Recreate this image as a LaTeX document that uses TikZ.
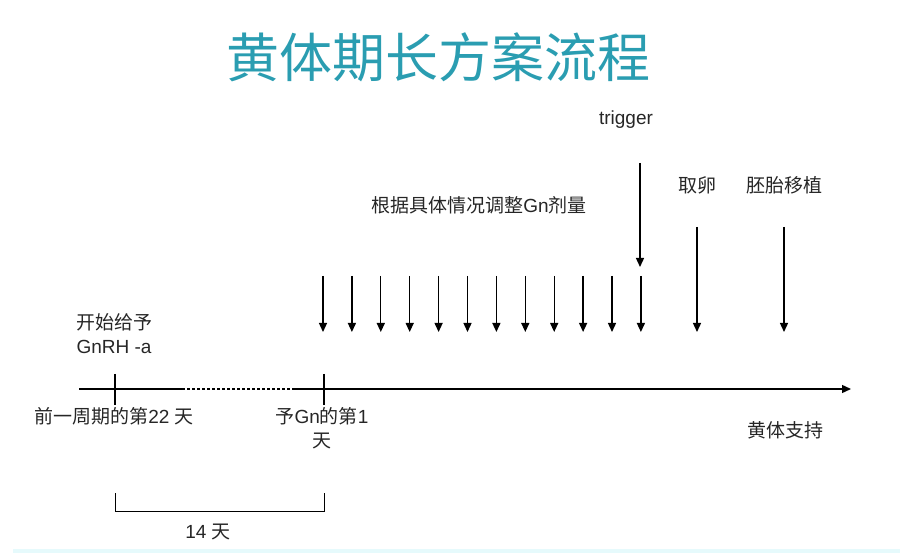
\documentclass[tikz,border=0pt]{standalone}
\usepackage{fontspec}
\setmainfont{Liberation Sans}
\newfontfamily\cjk{Noto Sans CJK SC}
\usetikzlibrary{arrows.meta}

\begin{document}
\begin{tikzpicture}[x=1pt,y=-1pt,
  lbl/.style={inner sep=0pt,font=\fontsize{19}{24}\selectfont,align=center,text=black!85},
  darrow/.style={-{Triangle[length=9pt,width=8pt]},line width=1.3pt},
  axisline/.style={line width=1.2pt}]
\definecolor{titleteal}{HTML}{2A9DB1}
\definecolor{footcyan}{HTML}{E6FAFC}
\useasboundingbox (0,0) rectangle (900,553);
\fill[footcyan] (13,549) rectangle (900,553);
\node[inner sep=0pt,font=\fontsize{53}{58}\selectfont\cjk,text=titleteal] (title) at (438,57) {黄体期长方案流程};
% time axis
\coordinate (start) at (79,389);
\coordinate (gapL) at (182,389);
\coordinate (gapR) at (295,389);
\coordinate (end) at (851,389);
\draw[axisline] (start) -- (gapL);
\draw[axisline,dash pattern=on 3pt off 2pt] (gapL) -- (gapR);
\draw[axisline,darrow] (gapR) -- (end);
\foreach \n/\x in {dA/115,dB/324}
  { \coordinate (\n-top) at (\x,374); \coordinate (\n-bot) at (\x,405);
    \draw[axisline] (\n-top) -- (\n-bot);}
% daily Gn arrows
\foreach \i in {0,...,11}
  { \coordinate (gn\i-top) at (323+28.9*\i,276); \coordinate (gn\i-bot) at (323+28.9*\i,332);
    \draw[darrow] (gn\i-top) -- (gn\i-bot);}
\foreach \n/\x/\y/\t in {trig/640/163/267,opu/697/227/332,et/784/227/332}
  { \coordinate (\n-top) at (\x,\y); \coordinate (\n-bot) at (\x,\t);
    \draw[darrow] (\n-top) -- (\n-bot);}
% labels
\node[lbl] (trigger) at (626,120) {trigger};
\node[lbl] (egg) at (697,185) {\cjk 取卵};
\node[lbl] (transfer) at (784,185) {\cjk 胚胎移植};
\node[lbl] (adjust) at (479,205) {{\cjk 根据具体情况调整}Gn{\cjk 剂量}};
\node[lbl] (begin) at (114,334) {{\cjk 开始给予}\\GnRH -a};
\node[lbl] (day22) at (114,416) {{\cjk 前一周期的第}22 {\cjk 天}};
\node[lbl] (day1) at (322,428) {{\cjk 予}Gn{\cjk 的第}1\\{\cjk 天}};
\node[lbl] (luteal) at (785,430) {\cjk 黄体支持};
% 14-day span
\coordinate (spanA) at (115,493);
\coordinate (spanB) at (324,493);
\draw[line width=0.8pt] (spanA) -- ++(0,18) -| (spanB);
\node[lbl] (span) at (208,532) {14 {\cjk 天}};
\end{tikzpicture}
\end{document}
